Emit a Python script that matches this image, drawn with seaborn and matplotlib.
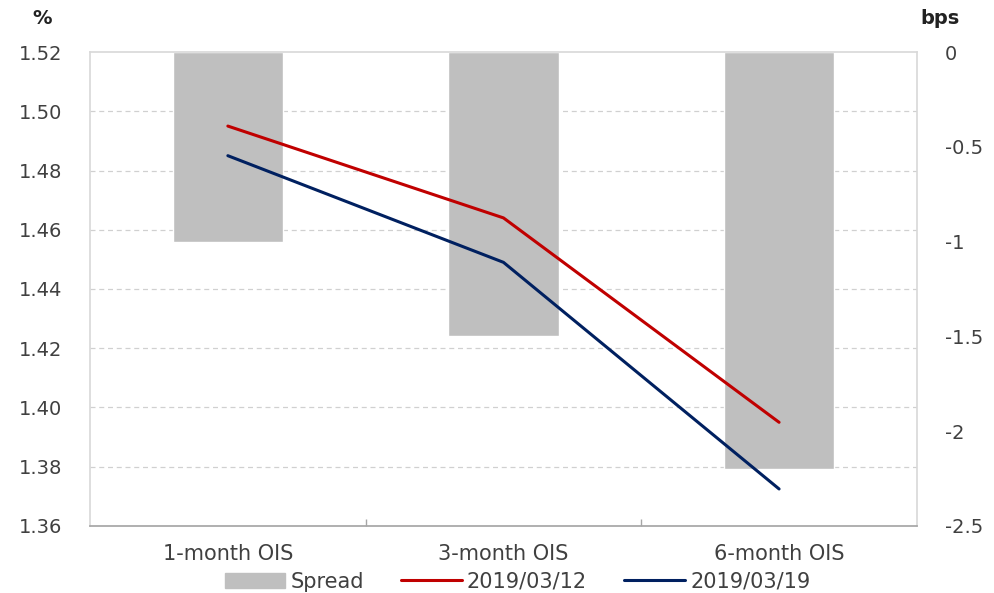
import matplotlib
matplotlib.use("Agg")
import matplotlib.pyplot as plt
import seaborn as sns
import numpy as np
import pandas as pd
from matplotlib.patches import Patch
from matplotlib.lines import Line2D

# data
tenors = ["1-month OIS", "3-month OIS", "6-month OIS"]
spread_bps = [-1.0, -1.5, -2.2]
ois_0312 = [1.495, 1.464, 1.395]
ois_0319 = [1.485, 1.449, 1.3725]

sns.set_theme(style="white")
plt.rcParams["font.family"] = ["DejaVu Sans"]

df_bar = pd.DataFrame({"tenor": tenors, "spread": spread_bps})
df_line = pd.DataFrame({
    "tenor": tenors * 2,
    "rate": ois_0312 + ois_0319,
    "date": ["2019/03/12"] * 3 + ["2019/03/19"] * 3,
})

grey = "#BFBFBF"
red = "#C00000"
navy = "#002060"
txt = "#404040"
fs = 14

fig = plt.figure(figsize=(9.95, 5.93), dpi=100)
ax = fig.add_axes([0.0905, 0.113, 0.831, 0.7993])

# bars on the right-hand (bps) axis
sns.barplot(data=df_bar, x="tenor", y="spread", color=grey, width=0.4,
            saturation=1, ax=ax, zorder=2)
ax2 = ax.twinx()

ax.set_ylim(-2.5, 0)
ax.set_xlim(-0.5, 2.5)
ax.yaxis.tick_right()
ax.set_yticks([0, -0.5, -1, -1.5, -2, -2.5])
ax.set_yticklabels(["0", "-0.5", "-1", "-1.5", "-2", "-2.5"])
ax.set_yticks(np.linspace(-2.5, 0, 9), minor=True)
ax.grid(axis="y", which="minor", color="#D0D0D0", linestyle=(0, (4, 3)), linewidth=0.9)
ax.grid(axis="y", which="major", visible=False)
ax.set_axisbelow(True)
ax.tick_params(axis="y", which="major", length=0, pad=20, labelsize=fs, labelcolor=txt,
               left=False, labelleft=False, right=True, labelright=True)
ax.tick_params(axis="y", which="minor", length=0)
ax.set_xticks([0.5, 1.5], minor=True)
ax.tick_params(axis="x", which="major", length=0, pad=13, labelsize=15, labelcolor=txt)
ax.tick_params(axis="x", which="minor", direction="in", length=5, color="#A6A6A6", bottom=True)
ax.set_xlabel("")
ax.set_ylabel("")
for s in ["left", "right", "top"]:
    ax.spines[s].set_color("#D9D9D9")
ax.spines["bottom"].set_color("#A6A6A6")

# lines on the left-hand (%) axis
sns.lineplot(data=df_line, x="tenor", y="rate", hue="date",
             palette=[red, navy], linewidth=2.2, legend=False, ax=ax2, sort=False)
ax2.set_ylim(1.36, 1.52)
ax2.set_yticks(np.arange(1.36, 1.5201, 0.02))
ax2.set_yticklabels([f"{v:.2f}" for v in np.arange(1.36, 1.5201, 0.02)])
ax2.tick_params(axis="y", length=0, pad=20, labelsize=fs, labelcolor=txt,
                left=True, labelleft=True, right=False, labelright=False)
ax2.set_ylabel("")
ax2.set_xlabel("")
for s in ax2.spines.values():
    s.set_visible(False)

fig.text(0.042, 0.968, "%", fontsize=14, color="#222222", fontweight="bold",
         ha="center", va="center")
fig.text(0.945, 0.968, "bps", fontsize=14, color="#222222", fontweight="bold",
         ha="center", va="center")

handles = [Patch(color=grey, label="Spread"),
           Line2D([], [], color=red, lw=2.2, label="2019/03/12"),
           Line2D([], [], color=navy, lw=2.2, label="2019/03/19")]
fig.legend(handles=handles, loc="center", bbox_to_anchor=(0.52, 0.019), ncol=3,
           frameon=False, fontsize=15, handlelength=2.9, handletextpad=0.25,
           columnspacing=1.8, labelcolor=txt)

fig.savefig("out.png", dpi=100)
